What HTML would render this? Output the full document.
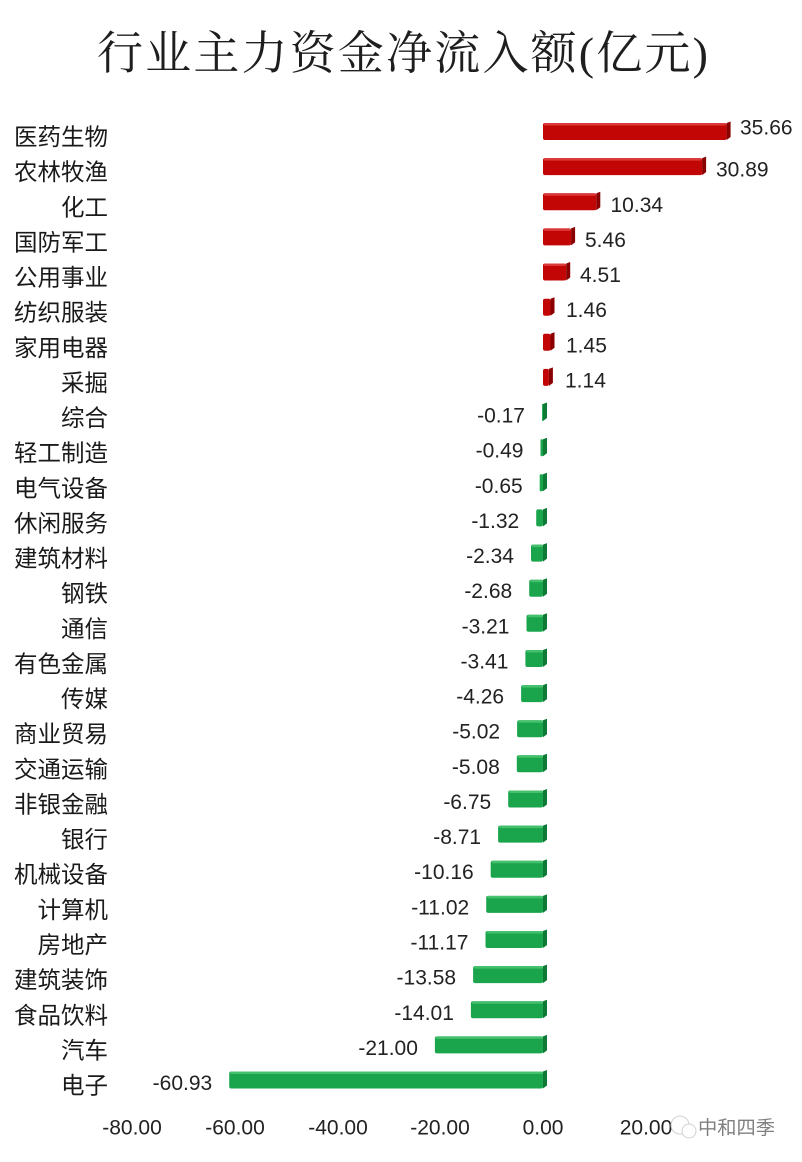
<!DOCTYPE html>
<html><head><meta charset="utf-8">
<style>
html,body{margin:0;padding:0;background:#fff;}
svg{display:block;}
.cat{font-family:"Liberation Sans","Noto Sans CJK SC",sans-serif;font-size:23.5px;fill:#1a1a1a;text-anchor:end;}
.num{font-family:"Liberation Sans",sans-serif;font-size:21px;fill:#222;}
.ne{text-anchor:end;}
.ax{font-family:"Liberation Sans",sans-serif;font-size:21px;fill:#222;text-anchor:middle;}
.r{fill:#c20606;}
.rh{fill:#dc3a3a;}
.rc{fill:#8a0000;}
.g{fill:#1aa54c;}
.gh{fill:#45c06c;}
.gc{fill:#0d7a36;}
</style></head>
<body>
<svg width="802" height="1162" viewBox="0 0 802 1162" xmlns="http://www.w3.org/2000/svg">
<rect width="802" height="1162" fill="#fff"/>
<text x="97" y="69" textLength="611" lengthAdjust="spacing" style="font-family:'Liberation Serif','Noto Serif CJK SC',serif;font-size:46px;fill:#1e1e1e;">行业主力资金净流入额(亿元)</text>

<!-- positive bars -->
<g transform="translate(0,131)"><rect class="r" x="543" y="-8" width="183.6" height="17" rx="2"/><rect class="rh" x="544" y="-8" width="182" height="2.5" rx="1"/><path class="rc" d="M726.6 -8 L730.6 -9.5 L730.6 6 L726.6 9 Z"/><text class="cat" x="108" y="14">医药生物</text><text class="num" x="740" y="3.5">35.66</text></g>
<g transform="translate(0,166.1)"><rect class="r" x="543" y="-8" width="159.1" height="17" rx="2"/><rect class="rh" x="544" y="-8" width="157.5" height="2.5" rx="1"/><path class="rc" d="M702.1 -8 L706.1 -9.5 L706.1 6 L702.1 9 Z"/><text class="cat" x="108" y="14">农林牧渔</text><text class="num" x="716" y="10.5">30.89</text></g>
<g transform="translate(0,201.3)"><rect class="r" x="543" y="-8" width="53.3" height="17" rx="2"/><rect class="rh" x="544" y="-8" width="51.7" height="2.5" rx="1"/><path class="rc" d="M596.3 -8 L600.3 -9.5 L600.3 6 L596.3 9 Z"/><text class="cat" x="108" y="14">化工</text><text class="num" x="610.5" y="10.5">10.34</text></g>
<g transform="translate(0,236.4)"><rect class="r" x="543" y="-8" width="28.1" height="17" rx="2"/><rect class="rh" x="544" y="-8" width="26.5" height="2.5" rx="1"/><path class="rc" d="M571.1 -8 L575.1 -9.5 L575.1 6 L571.1 9 Z"/><text class="cat" x="108" y="14">国防军工</text><text class="num" x="585" y="10.5">5.46</text></g>
<g transform="translate(0,271.5)"><rect class="r" x="543" y="-8" width="23.2" height="17" rx="2"/><rect class="rh" x="544" y="-8" width="21.6" height="2.5" rx="1"/><path class="rc" d="M566.2 -8 L570.2 -9.5 L570.2 6 L566.2 9 Z"/><text class="cat" x="108" y="14">公用事业</text><text class="num" x="580" y="10.5">4.51</text></g>
<g transform="translate(0,306.7)"><rect class="r" x="543" y="-8" width="7.5" height="17" rx="2"/><path class="rc" d="M550.5 -8 L554.5 -9.5 L554.5 6 L550.5 9 Z"/><text class="cat" x="108" y="14">纺织服装</text><text class="num" x="566" y="10.5">1.46</text></g>
<g transform="translate(0,341.8)"><rect class="r" x="543" y="-8" width="7.5" height="17" rx="2"/><path class="rc" d="M550.5 -8 L554.5 -9.5 L554.5 6 L550.5 9 Z"/><text class="cat" x="108" y="14">家用电器</text><text class="num" x="566" y="10.5">1.45</text></g>
<g transform="translate(0,376.9)"><rect class="r" x="543" y="-8" width="5.9" height="17" rx="2"/><path class="rc" d="M548.9 -8 L552.9 -9.5 L552.9 6 L548.9 9 Z"/><text class="cat" x="108" y="14">采掘</text><text class="num" x="565" y="10.5">1.14</text></g>

<!-- negative bars -->
<g transform="translate(0,412)"><rect class="g" x="542.1" y="-8" width="0.9" height="17"/><path class="gc" d="M543 -8 L547 -9.5 L547 6 L543 9 Z"/><text class="cat" x="108" y="14">综合</text><text class="num ne" x="525" y="10.5">-0.17</text></g>
<g transform="translate(0,447.2)"><rect class="g" x="540.5" y="-8" width="2.5" height="17" rx="1"/><path class="gc" d="M543 -8 L547 -9.5 L547 6 L543 9 Z"/><text class="cat" x="108" y="14">轻工制造</text><text class="num ne" x="523.5" y="10.5">-0.49</text></g>
<g transform="translate(0,482.3)"><rect class="g" x="539.7" y="-8" width="3.3" height="17" rx="1"/><path class="gc" d="M543 -8 L547 -9.5 L547 6 L543 9 Z"/><text class="cat" x="108" y="14">电气设备</text><text class="num ne" x="522.7" y="10.5">-0.65</text></g>
<g transform="translate(0,517.4)"><rect class="g" x="536.2" y="-8" width="6.8" height="17" rx="2"/><path class="gc" d="M543 -8 L547 -9.5 L547 6 L543 9 Z"/><text class="cat" x="108" y="14">休闲服务</text><text class="num ne" x="519.2" y="10.5">-1.32</text></g>
<g transform="translate(0,552.6)"><rect class="g" x="531" y="-8" width="12" height="17" rx="2"/><rect class="gh" x="532" y="-8" width="11" height="2.5" rx="1"/><path class="gc" d="M543 -8 L547 -9.5 L547 6 L543 9 Z"/><text class="cat" x="108" y="14">建筑材料</text><text class="num ne" x="514" y="10.5">-2.34</text></g>
<g transform="translate(0,587.7)"><rect class="g" x="529.2" y="-8" width="13.8" height="17" rx="2"/><rect class="gh" x="530.2" y="-8" width="12.8" height="2.5" rx="1"/><path class="gc" d="M543 -8 L547 -9.5 L547 6 L543 9 Z"/><text class="cat" x="108" y="14">钢铁</text><text class="num ne" x="512.2" y="10.5">-2.68</text></g>
<g transform="translate(0,622.8)"><rect class="g" x="526.5" y="-8" width="16.5" height="17" rx="2"/><rect class="gh" x="527.5" y="-8" width="15.5" height="2.5" rx="1"/><path class="gc" d="M543 -8 L547 -9.5 L547 6 L543 9 Z"/><text class="cat" x="108" y="14">通信</text><text class="num ne" x="509.5" y="10.5">-3.21</text></g>
<g transform="translate(0,658)"><rect class="g" x="525.4" y="-8" width="17.6" height="17" rx="2"/><rect class="gh" x="526.4" y="-8" width="16.6" height="2.5" rx="1"/><path class="gc" d="M543 -8 L547 -9.5 L547 6 L543 9 Z"/><text class="cat" x="108" y="14">有色金属</text><text class="num ne" x="508.4" y="10.5">-3.41</text></g>
<g transform="translate(0,693.1)"><rect class="g" x="521.1" y="-8" width="21.9" height="17" rx="2"/><rect class="gh" x="522.1" y="-8" width="20.9" height="2.5" rx="1"/><path class="gc" d="M543 -8 L547 -9.5 L547 6 L543 9 Z"/><text class="cat" x="108" y="14">传媒</text><text class="num ne" x="504.1" y="10.5">-4.26</text></g>
<g transform="translate(0,728.2)"><rect class="g" x="517.1" y="-8" width="25.9" height="17" rx="2"/><rect class="gh" x="518.1" y="-8" width="24.9" height="2.5" rx="1"/><path class="gc" d="M543 -8 L547 -9.5 L547 6 L543 9 Z"/><text class="cat" x="108" y="14">商业贸易</text><text class="num ne" x="500.1" y="10.5">-5.02</text></g>
<g transform="translate(0,763.3)"><rect class="g" x="516.8" y="-8" width="26.2" height="17" rx="2"/><rect class="gh" x="517.8" y="-8" width="25.2" height="2.5" rx="1"/><path class="gc" d="M543 -8 L547 -9.5 L547 6 L543 9 Z"/><text class="cat" x="108" y="14">交通运输</text><text class="num ne" x="499.8" y="10.5">-5.08</text></g>
<g transform="translate(0,798.5)"><rect class="g" x="508.2" y="-8" width="34.8" height="17" rx="2"/><rect class="gh" x="509.2" y="-8" width="33.8" height="2.5" rx="1"/><path class="gc" d="M543 -8 L547 -9.5 L547 6 L543 9 Z"/><text class="cat" x="108" y="14">非银金融</text><text class="num ne" x="491.2" y="10.5">-6.75</text></g>
<g transform="translate(0,833.6)"><rect class="g" x="498.1" y="-8" width="44.9" height="17" rx="2"/><rect class="gh" x="499.1" y="-8" width="43.9" height="2.5" rx="1"/><path class="gc" d="M543 -8 L547 -9.5 L547 6 L543 9 Z"/><text class="cat" x="108" y="14">银行</text><text class="num ne" x="481.1" y="10.5">-8.71</text></g>
<g transform="translate(0,868.7)"><rect class="g" x="490.7" y="-8" width="52.3" height="17" rx="2"/><rect class="gh" x="491.7" y="-8" width="51.3" height="2.5" rx="1"/><path class="gc" d="M543 -8 L547 -9.5 L547 6 L543 9 Z"/><text class="cat" x="108" y="14">机械设备</text><text class="num ne" x="473.7" y="10.5">-10.16</text></g>
<g transform="translate(0,903.9)"><rect class="g" x="486.2" y="-8" width="56.8" height="17" rx="2"/><rect class="gh" x="487.2" y="-8" width="55.8" height="2.5" rx="1"/><path class="gc" d="M543 -8 L547 -9.5 L547 6 L543 9 Z"/><text class="cat" x="108" y="14">计算机</text><text class="num ne" x="469.2" y="10.5">-11.02</text></g>
<g transform="translate(0,939)"><rect class="g" x="485.5" y="-8" width="57.5" height="17" rx="2"/><rect class="gh" x="486.5" y="-8" width="56.5" height="2.5" rx="1"/><path class="gc" d="M543 -8 L547 -9.5 L547 6 L543 9 Z"/><text class="cat" x="108" y="14">房地产</text><text class="num ne" x="468.5" y="10.5">-11.17</text></g>
<g transform="translate(0,974.1)"><rect class="g" x="473.1" y="-8" width="69.9" height="17" rx="2"/><rect class="gh" x="474.1" y="-8" width="68.9" height="2.5" rx="1"/><path class="gc" d="M543 -8 L547 -9.5 L547 6 L543 9 Z"/><text class="cat" x="108" y="14">建筑装饰</text><text class="num ne" x="456.1" y="10.5">-13.58</text></g>
<g transform="translate(0,1009.3)"><rect class="g" x="470.9" y="-8" width="72.1" height="17" rx="2"/><rect class="gh" x="471.9" y="-8" width="71.1" height="2.5" rx="1"/><path class="gc" d="M543 -8 L547 -9.5 L547 6 L543 9 Z"/><text class="cat" x="108" y="14">食品饮料</text><text class="num ne" x="453.9" y="10.5">-14.01</text></g>
<g transform="translate(0,1044.4)"><rect class="g" x="434.9" y="-8" width="108.1" height="17" rx="2"/><rect class="gh" x="435.9" y="-8" width="107.1" height="2.5" rx="1"/><path class="gc" d="M543 -8 L547 -9.5 L547 6 L543 9 Z"/><text class="cat" x="108" y="14">汽车</text><text class="num ne" x="417.9" y="10.5">-21.00</text></g>
<g transform="translate(0,1079.5)"><rect class="g" x="229.2" y="-8" width="313.8" height="17" rx="2"/><rect class="gh" x="230.2" y="-8" width="312.8" height="2.5" rx="1"/><path class="gc" d="M543 -8 L547 -9.5 L547 6 L543 9 Z"/><text class="cat" x="108" y="14">电子</text><text class="num ne" x="212.2" y="10.5">-60.93</text></g>

<!-- axis labels -->
<text class="ax" x="132" y="1134.5">-80.00</text>
<text class="ax" x="235" y="1134.5">-60.00</text>
<text class="ax" x="338" y="1134.5">-40.00</text>
<text class="ax" x="440" y="1134.5">-20.00</text>
<text class="ax" x="543" y="1134.5">0.00</text>
<text class="ax" x="646" y="1134.5">20.00</text>

<!-- watermark -->
<g opacity="0.9">
<circle cx="680" cy="1125" r="9" fill="#fff" stroke="#ccc" stroke-width="1"/>
<circle cx="689" cy="1131" r="7" fill="#fff" stroke="#ccc" stroke-width="1"/>
</g>
<text x="698" y="1134" style="font-family:'Liberation Sans','Noto Sans CJK SC',sans-serif;font-size:19px;fill:#555;opacity:0.75;" textLength="77" lengthAdjust="spacingAndGlyphs">中和四季</text>
</svg>
</body></html>
